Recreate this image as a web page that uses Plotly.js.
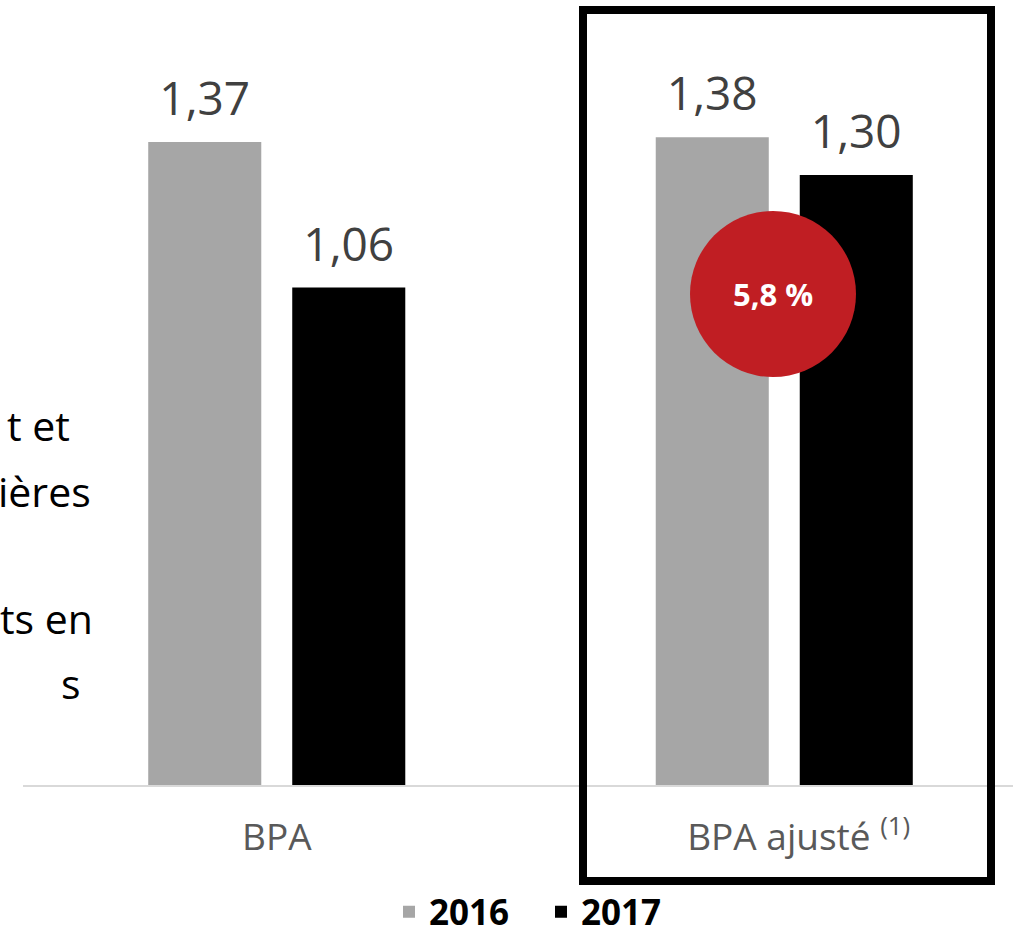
<!DOCTYPE html>
<html><head><meta charset="utf-8">
<script src="https://cdn.plot.ly/plotly-3.0.1.min.js"></script>
<style>html,body{margin:0;padding:0;background:#fff;overflow:hidden}</style>
</head><body><div id="chart" style="width:1013px;height:937px"></div>
<script>
const categories = ['BPA', 'BPA ajusté (1)'];
const tickLabels = ['BPA', '&nbsp;&nbsp;&nbsp;BPA ajusté&nbsp;<sup>(1)</sup>'];
const years = ['2016', '2017'];
const values2016 = [1.37, 1.38];
const values2017 = [1.06, 1.30];
const changeLabel = '5,8 %';
const sideTextLines = ['t et', 'ières', 'ts en', 's'];

const FONT = '"Open Sans", "Noto Sans", sans-serif';
const colors = ['#a6a6a6', '#000000'];
const series = [values2016, values2017];
function fmt(v) { return v.toFixed(2).replace('.', ','); }

const traces = [];
series.forEach((vals, i) => {
  traces.push({
    type: 'bar', name: years[i], x: categories, y: vals,
    marker: {color: colors[i]}, hoverinfo: 'skip'
  });
});
series.forEach((vals, i) => {
  traces.push({
    type: 'scatter', mode: 'markers+text', x: categories, y: vals,
    text: vals.map(fmt), textposition: 'top center',
    textfont: {family: FONT, size: 46, color: '#404040'},
    marker: {size: 23, color: 'rgba(0,0,0,0)'},
    showlegend: false, hoverinfo: 'skip', cliponaxis: false
  });
});

// pixel layout helpers
const L = 23, PW = 990, PB = 785, PH = 765, H = 937;
const px = v => (v - L) / PW;
const py = v => (PB - v) / PH;
const sideRight = [72, 93, 95, 83];
const sideY = [425, 491, 618, 683];

const annotations = sideTextLines.map((t, i) => ({
  text: t, xref: 'paper', yref: 'paper', x: px(sideRight[i]), y: py(sideY[i]),
  xanchor: 'right', yanchor: 'middle', showarrow: false,
  font: {family: FONT, size: 41, color: '#000000'}
}));
annotations.push({
  text: '<b>' + changeLabel + '</b>', xref: 'paper', yref: 'paper',
  x: px(773), y: py(294), xanchor: 'center', yanchor: 'middle', showarrow: false,
  font: {family: FONT, size: 31, color: '#ffffff'}
});

const layout = {
  width: 1013, height: 937,
  margin: {l: L, r: 0, t: 20, b: 152, pad: 0},
  paper_bgcolor: '#ffffff', plot_bgcolor: '#ffffff',
  barmode: 'group', bargap: 0.4325, bargroupgap: 0.215,
  scattermode: 'group', scattergap: 0.4325,
  showlegend: true,
  legend: {orientation: 'h', xref: 'paper', x: px(541), xanchor: 'center',
    yref: 'container', y: (H - 912) / H, yanchor: 'middle', entrywidth: 107,
    font: {family: FONT, size: 35, color: '#000000', weight: 'bold'}, bgcolor: 'rgba(0,0,0,0)'},
  xaxis: {range: [-0.5, 1.4507], fixedrange: true, showgrid: false, zeroline: false,
    showline: true, linecolor: '#d9d9d9', linewidth: 2, ticks: '',
    tickmode: 'array', tickvals: categories, ticktext: tickLabels,
    tickfont: {family: FONT, size: 37, color: '#595959'}, ticklabelstandoff: 19},
  yaxis: {range: [0, 1.630], visible: false, fixedrange: true},
  shapes: [
    {type: 'rect', xref: 'paper', yref: 'paper', x0: px(583), x1: px(991), y0: py(881), y1: py(10),
      line: {color: '#000000', width: 8}, fillcolor: 'rgba(0,0,0,0)', layer: 'above'},
    {type: 'circle', xref: 'paper', yref: 'paper', xsizemode: 'pixel', ysizemode: 'pixel',
      xanchor: px(773), yanchor: py(294), x0: -83, x1: 83, y0: -83, y1: 83,
      fillcolor: '#c01e23', line: {width: 0}, layer: 'above'}
  ],
  annotations: annotations
};
Plotly.newPlot('chart', traces, layout, {displayModeBar: false, staticPlot: true});
</script></body></html>
